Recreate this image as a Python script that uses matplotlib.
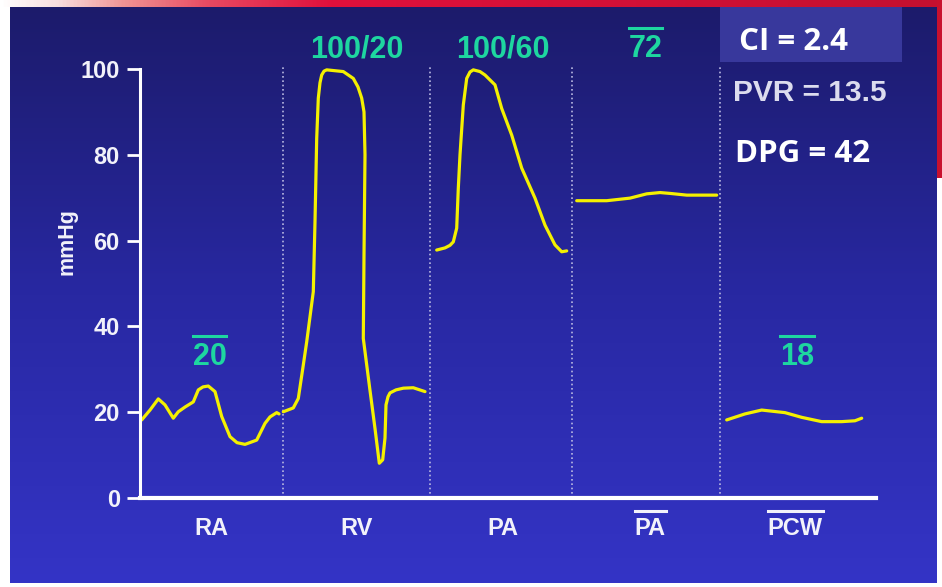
import matplotlib
matplotlib.use('Agg')
import matplotlib.pyplot as plt
import numpy as np
from matplotlib.patches import Rectangle
from matplotlib.lines import Line2D
from matplotlib.transforms import IdentityTransform
from matplotlib.colors import LinearSegmentedColormap

# ---------------- data ----------------
# time axis in arbitrary units (each panel ~147 units wide), pressure in mmHg
ra_t = [1.7, 10, 18.3, 25, 33.3, 38.3, 45, 53.3, 58.3, 63, 68.3, 75, 81.7, 90, 97, 105, 116.7, 125, 130, 136.7, 139]
ra_p = [18.2, 20.5, 23.1, 21.7, 18.6, 20.1, 21.2, 22.4, 25.2, 25.9, 26.1, 24.8, 19.0, 14.3, 12.9, 12.5, 13.5, 17.4, 18.9, 19.9, 19.6]

rv_t = [143.3, 153.3, 158.3, 163.3, 166.7, 173.3, 175, 176.7, 178.3, 180, 181.7, 184, 186.7, 203.3, 213.3, 218, 221.7, 224, 225, 224, 223.3, 229.7, 235, 239.3, 242.7, 245, 246, 248, 250, 256, 263.3, 273.3, 285]
rv_p = [20.1, 21.0, 23.2, 31.0, 36.4, 48.1, 64.4, 83.8, 93.2, 96.8, 98.6, 99.5, 99.8, 99.4, 97.8, 95.8, 93.2, 90.0, 80.0, 56.6, 37.2, 25.6, 16.2, 8.1, 8.9, 14.0, 21.7, 23.6, 24.5, 25.2, 25.6, 25.7, 24.8]

pa_t = [296.7, 305, 310, 313.3, 316.7, 318.3, 320, 323.3, 326.7, 330, 333.3, 340, 345, 355, 361.7, 371.7, 381.7, 395, 405, 415, 421.7, 426.7]
pa_p = [57.8, 58.3, 58.9, 59.7, 62.9, 72.2, 80.0, 91.6, 97.8, 99.3, 99.8, 99.4, 98.6, 96.3, 90.8, 84.6, 76.9, 69.9, 63.6, 59.0, 57.4, 57.6]

pam_t = [436.7, 466.7, 490, 506.7, 520, 530, 546.7, 576.7]
pam_p = [69.3, 69.3, 69.9, 70.9, 71.2, 71.0, 70.6, 70.6]

pcw_t = [586.7, 605, 621.7, 645, 661.7, 681.7, 701.7, 715, 721.7]
pcw_p = [18.2, 19.6, 20.5, 19.9, 18.8, 17.8, 17.8, 18.0, 18.6]

dividers = [143, 290, 432, 580]
panel_centers = [71, 217, 363, 510, 655]
panel_labels = ['RA', 'RV', 'PA', 'PA', 'PCW']
panel_overlined = [False, False, False, True, True]
yticks = [0, 20, 40, 60, 80, 100]

# value annotations: (label, x, baseline y in mmHg, overlined)
value_labels = [('100/20', 217, 102.6, False),
                ('100/60', 363, 102.6, False),
                ('72', 505.5, 102.8, True),
                ('20', 69.5, 31.0, True),
                ('18', 657, 31.0, True)]

side_texts = [('CI = 2.4', 'Open Sans', 22.5, 'white', 739),
              ('PVR = 13.5', 'Liberation Sans', 21.5, '#dcdcee', 733),
              ('DPG = 42', 'Open Sans', 22.5, 'white', 735)]

# ---------------- figure ----------------
W, H = 942, 587
fig = plt.figure(figsize=(W / 100, H / 100), dpi=100)
fig.patch.set_facecolor('white')

bg = fig.add_axes([0, 0, 1, 1])
bg.set_xlim(0, W)
bg.set_ylim(H, 0)
bg.axis('off')
grad = np.linspace(0, 1, 256).reshape(-1, 1)
cmap = LinearSegmentedColormap.from_list('bg', ['#1c1b6b', '#2828a2', '#3434c6'])
bg.imshow(grad, cmap=cmap, extent=[10, 937, 583, 7], aspect='auto', interpolation='bilinear')
hgrad = np.linspace(0, 1, 512).reshape(1, -1)
cmap2 = LinearSegmentedColormap.from_list('band', [(0, 'white'), (0.06, '#f8dede'), (0.13, '#f09494'),
                                                    (0.22, '#e84a62'), (0.35, '#e0103c'), (1, '#c41030')])
bg.imshow(hgrad, cmap=cmap2, extent=[0, 942, 7, 0], aspect='auto', interpolation='bilinear')
bg.add_patch(Rectangle((937, 0), 5, 178, color='#c8102e', lw=0))
bg.add_patch(Rectangle((720, 7), 182, 55, color='#38389c', lw=0))
bg.set_xlim(0, W)
bg.set_ylim(H, 0)

ax = fig.add_axes([140 / W, 1 - 498 / H, (876 - 140) / W, (498 - 69) / H])
ax.patch.set_alpha(0)
ax.set_xlim(0, 736)
ax.set_ylim(0, 100)
for s in ['top', 'right']:
    ax.spines[s].set_visible(False)
ax.spines['left'].set_color('white')
ax.spines['left'].set_linewidth(2.2)
ax.spines['bottom'].set_color('white')
ax.spines['bottom'].set_linewidth(3)

ax.set_yticks(yticks)
ax.set_yticklabels([str(v) for v in yticks])
ax.tick_params(axis='y', colors='white', labelcolor='#f2f2fa', length=9.5, width=2, pad=5, labelsize=17)
ax.set_xticks(panel_centers)
ax.set_xticklabels(panel_labels)
ax.tick_params(axis='x', length=0, pad=14, labelsize=17, labelcolor='#f2f2fa')
for lbl in ax.get_yticklabels() + ax.get_xticklabels():
    lbl.set_fontweight('bold')
    lbl.set_family('Liberation Sans')

ax.vlines(dividers, 0, 101, colors='#b8b8e0', lw=1.2, linestyles=(0, (1, 1.6)), clip_on=False)

yellow = '#f4f000'
for t, p in [(ra_t, ra_p), (rv_t, rv_p), (pa_t, pa_p), (pam_t, pam_p), (pcw_t, pcw_p)]:
    ax.plot(t, p, color=yellow, lw=2.3, solid_joinstyle='round', solid_capstyle='round', clip_on=False)

fig.text(67 / W, 1 - 242 / H, 'mmHg', rotation=90, ha='center', va='center', color='#f2f2fa',
         fontsize=15.5, fontweight='bold', family='Liberation Sans')

green = '#1ed6a0'
over_items = []
for txt, x, y, ov in value_labels:
    t = ax.text(x, y, txt, ha='center', va='baseline', color=green, fontsize=22,
                family='Liberation Sans', fontweight='bold', clip_on=False)
    if ov:
        over_items.append((t, green, 6))

baselines = [50, 101, 162]
for (txt, fam, fs, col, x0), yb in zip(side_texts, baselines):
    fig.text(x0 / W, 1 - yb / H, txt, ha='left', va='baseline', color=col, fontsize=fs,
             fontweight='bold', family=fam)

fig.canvas.draw()
renderer = fig.canvas.get_renderer()
for lbl, ov in zip(ax.get_xticklabels(), panel_overlined):
    if ov:
        over_items.append((lbl, '#f2f2fa', 6))
for t, col, gap in over_items:
    bb = t.get_window_extent(renderer)
    yy = bb.y1 + gap
    fig.add_artist(Line2D([bb.x0, bb.x1], [yy, yy], transform=IdentityTransform(), color=col, lw=2.2))

fig.savefig('out.png', dpi=100)
